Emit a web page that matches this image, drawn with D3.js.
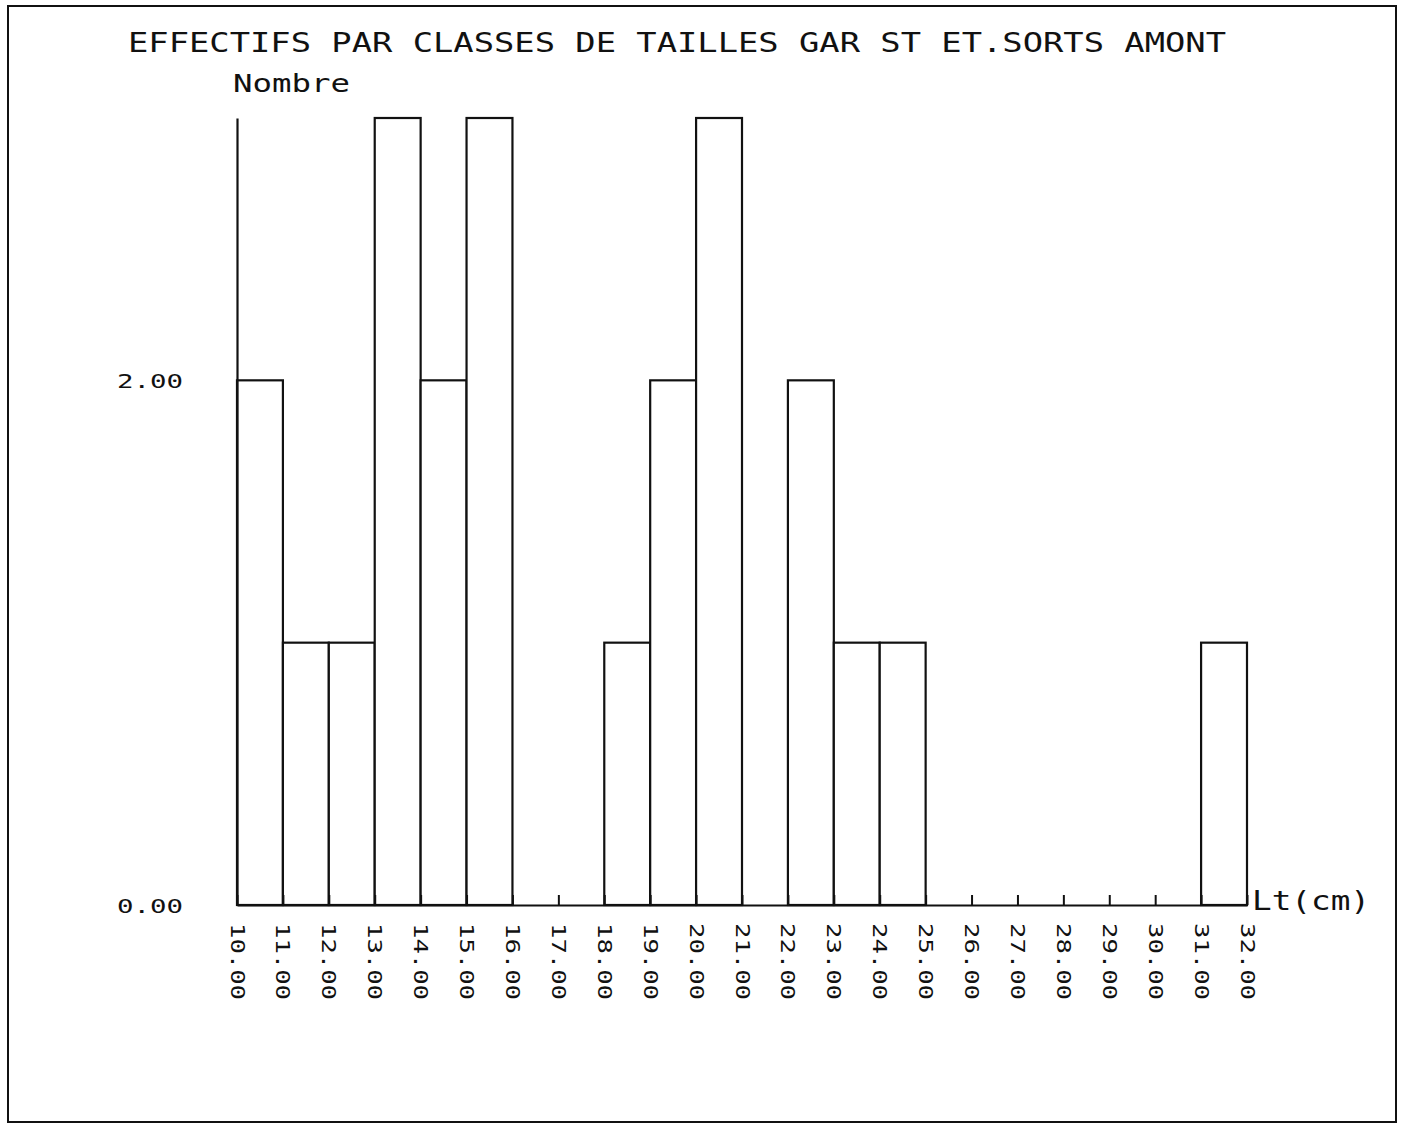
<!DOCTYPE html>
<html><head><meta charset="utf-8">
<script src="https://cdn.jsdelivr.net/npm/d3@7"></script>
<style>
body{margin:0;background:#fff;}
text{font-family:"DejaVu Sans Mono","Liberation Mono",monospace;fill:#111;}
</style></head>
<body><svg id="c" width="1405" height="1126"></svg>
<script>
const title = "EFFECTIFS PAR CLASSES DE TAILLES GAR ST ET.SORTS AMONT";
const yLabel = "Nombre";
const xLabel = "Lt(cm)";
const binStarts = [10,11,12,13,14,15,16,17,18,19,20,21,22,23,24,25,26,27,28,29,30,31];
const counts    = [ 2, 1, 1, 3, 2, 3, 0, 0, 1, 2, 3, 0, 2, 1, 1, 0, 0, 0, 0, 0, 0, 1];
const xTicks = [10,11,12,13,14,15,16,17,18,19,20,21,22,23,24,25,26,27,28,29,30,31,32];
const yTicks = [0,2];

const svg = d3.select("#c");
const ink = "#111";
const x = d3.scaleLinear().domain([10,32]).range([237,1247]);
const y = d3.scaleLinear().domain([0,3]).range([905,118]);

// border
svg.append("rect").attr("x",8).attr("y",6).attr("width",1388).attr("height",1116)
  .attr("fill","none").attr("stroke",ink).attr("stroke-width",2);

// title
svg.append("text").attr("x",128).attr("y",52).attr("font-size",26)
  .attr("textLength",1098).attr("lengthAdjust","spacingAndGlyphs").text(title);
svg.append("text").attr("x",233).attr("y",92).attr("font-size",24)
  .attr("textLength",117).attr("lengthAdjust","spacingAndGlyphs").text(yLabel);

// bars
const data = binStarts.map((s,i)=>({s, v:counts[i]})).filter(d=>d.v>0);
svg.append("g").selectAll("rect").data(data).join("rect")
  .attr("x",d=>x(d.s)).attr("width",d=>x(d.s+1)-x(d.s))
  .attr("y",d=>y(d.v)).attr("height",d=>y(0)-y(d.v))
  .attr("fill","#fff").attr("stroke",ink).attr("stroke-width",2.2);

// x axis
const gx = svg.append("g").attr("transform",`translate(0,${y(0)})`)
  .call(d3.axisBottom(x).tickValues(xTicks).tickFormat(d3.format(".2f")).tickSizeInner(-10).tickSizeOuter(0));
gx.select(".domain").attr("stroke",ink).attr("stroke-width",2.2);
gx.selectAll(".tick line").attr("stroke",ink).attr("stroke-width",2);
gx.selectAll(".tick text").attr("font-size",20).attr("transform","rotate(90)")
  .attr("text-anchor","start").attr("x",18).attr("y",0).attr("dy","0.35em")
  .attr("textLength",77).attr("lengthAdjust","spacingAndGlyphs").attr("fill",ink);

// y axis
const gy = svg.append("g").attr("transform",`translate(${x(10)},0)`)
  .call(d3.axisLeft(y).tickValues(yTicks).tickFormat(d3.format(".2f")).tickSize(0));
gy.select(".domain").attr("stroke",ink).attr("stroke-width",2.2);
gy.selectAll(".tick text").attr("font-size",20).attr("x",-54).attr("dy","0.35em")
  .attr("textLength",66).attr("lengthAdjust","spacingAndGlyphs").attr("fill",ink);

// x label
svg.append("text").attr("x",1252).attr("y",910).attr("font-size",26)
  .attr("textLength",118).attr("lengthAdjust","spacingAndGlyphs").text(xLabel);
</script></body></html>
